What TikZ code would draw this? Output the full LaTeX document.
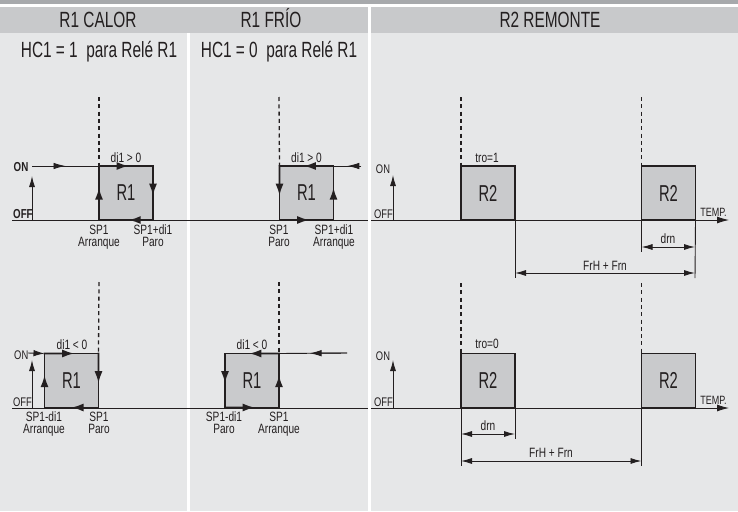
\documentclass[tikz,border=0pt]{standalone}
\usepackage{fontspec}
\setmainfont[FakeStretch=0.70]{Liberation Sans}
\newfontfamily\lblfont[FakeStretch=0.75]{Liberation Sans}
\newfontfamily\boxfont[FakeStretch=0.64]{Liberation Sans}
\usetikzlibrary{arrows.meta,calc}
\definecolor{bg}{HTML}{E6E7E8}
\definecolor{hdrcol}{HTML}{C8C9CB}
\definecolor{stripcol}{HTML}{A7A9AC}
\definecolor{boxfill}{HTML}{C9CACC}
\definecolor{ink}{HTML}{231F20}
% a segment with an arrow head part-way along it
\newcommand{\flowseg}[5]{%
  \draw[#1] (#2) -- (#3);
  \draw[#1, -{Latex[length=12pt,width=#5]}] (#2) -- ($(#2)!#4!(#3)$);
}
\begin{document}
\begin{tikzpicture}[x=1pt,y=-1pt,
  hdr/.style={anchor=base, inner sep=0, text=ink, font=\fontsize{22}{22}\selectfont},
  lbl/.style={anchor=base, inner sep=0, text=ink, font=\lblfont\fontsize{13.5}{11.5}\selectfont},
  twolbl/.style={anchor=north, inner sep=0, align=center, text=ink, font=\lblfont\fontsize{13.5}{11.5}\selectfont},
  onoff/.style={anchor=base, inner sep=0, text=ink, font=\lblfont\bfseries\fontsize{13}{13}\selectfont},
  onoff2/.style={anchor=base, inner sep=0, text=ink, font=\lblfont\fontsize{12.5}{12}\selectfont},
  r1fill/.style={fill=boxfill, minimum width=54pt, minimum height=54pt, inner sep=0, outer sep=0, text=ink, font=\boxfont\fontsize{23}{23}\selectfont},
  r2box/.style={r1fill, draw=ink, line width=1.8pt},
  edgeline/.style={draw=ink, line width=1.8pt, line cap=rect},
  thinline/.style={draw=ink, line width=0.9pt},
  dashline/.style={draw=ink, line width=1.3pt, dash pattern=on 4pt off 3.3pt},
  uparr/.style={thinline, -{Latex[length=11pt,width=6pt]}},
  dimarr/.style={thinline, {Latex[length=11pt,width=6pt]}-{Latex[length=11pt,width=6pt]}}
]
\useasboundingbox (0,0) rectangle (738,511);
% background
\fill[bg] (0,0) rectangle (738,511);
\fill[stripcol] (0,0) rectangle (738,4);
\fill[white] (0,4) rectangle (738,7);
\fill[hdrcol] (0,7) rectangle (738,33);
\fill[white] (187,33) rectangle (190,511);
\fill[white] (368,7) rectangle (371,511);
% headers
\node[hdr] (h1) at (98,28) {R1 CALOR};
\node[hdr] (h2) at (271,28) {R1 FRÍO};
\node[hdr] (h3) at (550,28) {R2 REMONTE};
\node[hdr] (hc1) at (99,58) {HC1 = 1~~para Relé R1};
\node[hdr] (hc0) at (279,58) {HC1 = 0~~para Relé R1};

% ---------- axes ----------
\coordinate (axA1) at (12,220); \coordinate (axA2) at (368,220);
\coordinate (axB1) at (12,408); \coordinate (axB2) at (368,408);
\coordinate (axC1) at (371,220); \coordinate (axC2) at (729,220);
\coordinate (axD1) at (371,408); \coordinate (axD2) at (729,408);
\draw[thinline] (axA1) -- (axA2);
\draw[thinline] (axB1) -- (axB2);
\draw[thinline, -{Latex[length=12pt,width=7pt]}] (axC1) -- (axC2);
\draw[thinline, -{Latex[length=12pt,width=7pt]}] (axD1) -- (axD2);

% ---------- R1 CALOR, di1 > 0 ----------
\node[r1fill] (c1) at (126,193) {R1};
\coordinate (c1on) at (32,166);
\coordinate (c1ax) at (32,220);
\coordinate (c1axtop) at (32,176);
\coordinate (c1dash) at (99,97);
\draw[dashline] (c1dash) -- (c1.north west);
\draw[uparr] (c1ax) -- (c1axtop);
\flowseg{thinline}{c1on}{c1.north west}{0.5}{6.5pt}
\flowseg{edgeline}{c1.south west}{c1.north west}{0.6}{8pt}
\flowseg{edgeline}{c1.north west}{c1.north east}{0.55}{8pt}
\flowseg{edgeline}{c1.north east}{c1.south east}{0.55}{8pt}
\flowseg{edgeline}{c1.south east}{c1.south west}{0.45}{8pt}
\node[onoff, anchor=base east] (on1) at (28.5,171) {ON};
\node[onoff, anchor=base west] (off1) at (13,218) {OFF};
\node[lbl] (d1) at (126,162) {di1 > 0};
\node[twolbl] (s1a) at (99,225) {SP1\\Arranque};
\node[twolbl] (s1c) at (153,225) {SP1+di1\\Paro};

% ---------- R1 FRIO, di1 > 0 ----------
\node[r1fill] (f1) at (306.5,193) {R1};
\coordinate (f1in) at (361,166);
\coordinate (f1dash) at (279,97);
\draw[dashline] (f1dash) -- (f1.north west);
\flowseg{thinline}{f1in}{f1.north east}{0.5}{6.5pt}
\flowseg{edgeline}{f1.north east}{f1.north west}{0.55}{8pt}
\flowseg{edgeline}{f1.north west}{f1.south west}{0.55}{8pt}
\flowseg{edgeline}{f1.south west}{f1.south east}{0.55}{8pt}
\flowseg{edgeline}{f1.south east}{f1.north east}{0.6}{8pt}
\node[lbl] (d2) at (306.5,162) {di1 > 0};
\node[twolbl] (s2a) at (279,225) {SP1\\Paro};
\node[twolbl] (s2c) at (334,225) {SP1+di1\\Arranque};

% ---------- R1 CALOR, di1 < 0 ----------
\node[r1fill] (c2) at (71.5,380.5) {R1};
\coordinate (c2on) at (28,353);
\coordinate (c2ax) at (32,408);
\coordinate (c2axtop) at (32,360);
\coordinate (c2dash) at (99,282);
\draw[dashline] (c2dash) -- (c2.north east);
\draw[uparr] (c2ax) -- (c2axtop);
\draw[thinline, -{Latex[length=11pt,width=6.5pt]}] (c2on) -- (c2.north west);
\flowseg{edgeline}{c2.south west}{c2.north west}{0.6}{8pt}
\flowseg{edgeline}{c2.north west}{c2.north east}{0.55}{8pt}
\flowseg{edgeline}{c2.north east}{c2.south east}{0.55}{8pt}
\flowseg{edgeline}{c2.south east}{c2.south west}{0.5}{8pt}
\node[onoff2, anchor=base east] (on2) at (28.5,359) {ON};
\node[onoff2, anchor=base west] (off2) at (13,406) {OFF};
\node[lbl] (d3) at (72,349) {di1 < 0};
\node[twolbl] (s3a) at (44,412) {SP1-di1\\Arranque};
\node[twolbl] (s3c) at (99,412) {SP1\\Paro};

% ---------- R1 FRIO, di1 < 0 ----------
\node[r1fill] (f2) at (252,380.5) {R1};
\coordinate (f2in) at (347,353);
\coordinate (f2dash) at (279,282);
\draw[dashline] (f2dash) -- (f2.north east);
\flowseg{thinline}{f2in}{f2.north east}{0.55}{6.5pt}
\flowseg{edgeline}{f2.north east}{f2.north west}{0.55}{8pt}
\flowseg{edgeline}{f2.north west}{f2.south west}{0.55}{8pt}
\flowseg{edgeline}{f2.south west}{f2.south east}{0.55}{8pt}
\flowseg{edgeline}{f2.south east}{f2.north east}{0.6}{8pt}
\node[lbl] (d4) at (252,349) {di1 < 0};
\node[twolbl] (s4a) at (224,412) {SP1-di1\\Paro};
\node[twolbl] (s4c) at (279,412) {SP1\\Arranque};

% ---------- R2 REMONTE, tro = 1 ----------
\node[r2box] (ra) at (488,193) {R2};
\node[r2box] (rb) at (668.5,193) {R2};
\coordinate (radash) at (461,97);
\coordinate (rbdash) at (641.5,97);
\draw[dashline] (radash) -- (ra.north west);
\draw[dashline] (rbdash) -- (rb.north west);
\coordinate (raax) at (393,220); \coordinate (raaxtop) at (393,175);
\draw[uparr] (raax) -- (raaxtop);
\node[onoff2] (on3) at (383,173) {ON};
\node[onoff2] (off3) at (383.5,218) {OFF};
\node[lbl] (tro1) at (487,162) {tro=1};
\node[lbl, font=\lblfont\fontsize{12}{12}\selectfont] (temp1) at (713.5,216) {TEMP.};
\coordinate (ta1) at (641.5,252);
\coordinate (ta2) at (695,278);
\coordinate (ta3) at (515,278);
\draw[thinline] (rb.south west) -- (ta1);
\draw[thinline] (rb.south east) -- (ta2);
\draw[thinline] (ra.south east) -- (ta3);
\coordinate (drnA1) at (641.5,247); \coordinate (drnA2) at (695,247);
\draw[dimarr] (drnA1) -- (drnA2);
\node[lbl] (drn1) at (668,243) {drn};
\coordinate (frA1) at (515,273); \coordinate (frA2) at (695,273);
\draw[dimarr] (frA1) -- (frA2);
\node[lbl] (fr1) at (605,270) {FrH + Frn};

% ---------- R2 REMONTE, tro = 0 ----------
\node[r2box] (rc) at (488,380.5) {R2};
\node[r2box] (rd) at (668.5,380.5) {R2};
\coordinate (rcdash) at (461,283);
\coordinate (rddash) at (641.5,283);
\draw[dashline] (rcdash) -- (rc.north west);
\draw[dashline] (rddash) -- (rd.north west);
\coordinate (rcax) at (393,408); \coordinate (rcaxtop) at (393,360);
\draw[uparr] (rcax) -- (rcaxtop);
\node[onoff2] (on4) at (383,360) {ON};
\node[onoff2] (off4) at (383.5,406) {OFF};
\node[lbl] (tro0) at (487,348) {tro=0};
\node[lbl, font=\lblfont\fontsize{12}{12}\selectfont] (temp2) at (713.5,404) {TEMP.};
\coordinate (tb1) at (461,466);
\coordinate (tb2) at (515,439);
\coordinate (tb3) at (641.5,466);
\draw[thinline] (rc.south west) -- (tb1);
\draw[thinline] (rc.south east) -- (tb2);
\draw[thinline] (rd.south west) -- (tb3);
\coordinate (drnB1) at (461,434); \coordinate (drnB2) at (515,434);
\draw[dimarr] (drnB1) -- (drnB2);
\node[lbl] (drn2) at (488,430) {drn};
\coordinate (frB1) at (461,461); \coordinate (frB2) at (641.5,461);
\draw[dimarr] (frB1) -- (frB2);
\node[lbl] (fr2) at (551,457) {FrH + Frn};
\end{tikzpicture}
\end{document}
